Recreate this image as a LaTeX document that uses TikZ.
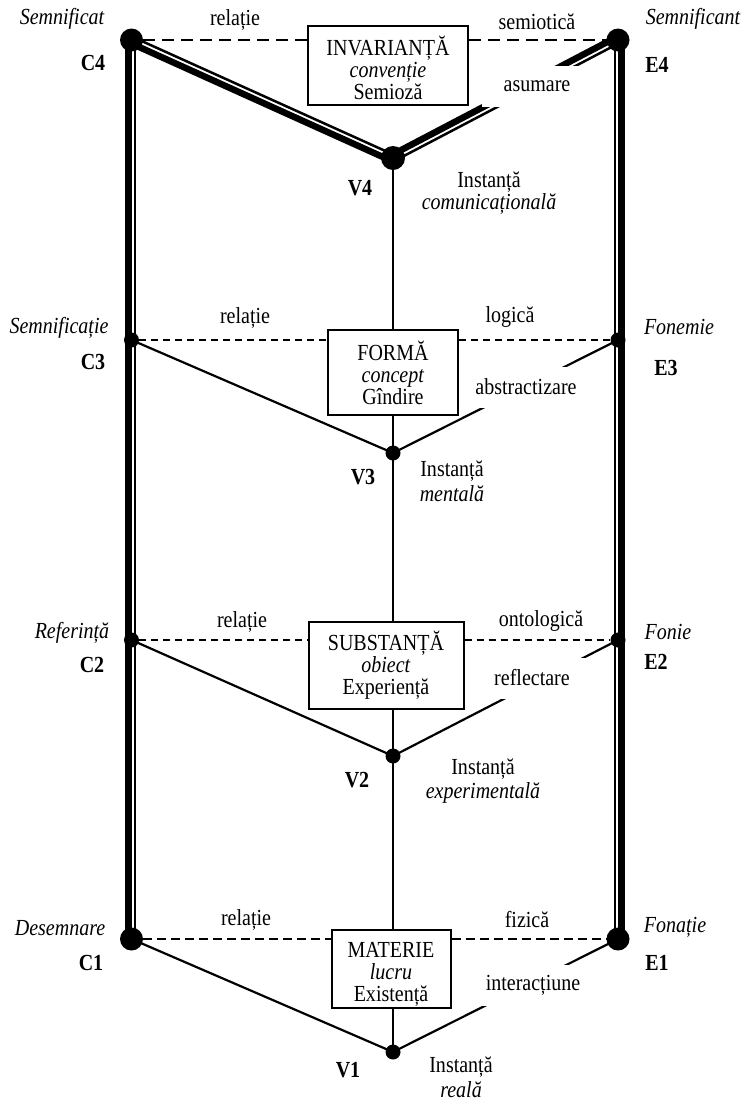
\documentclass[tikz,border=0pt]{standalone}
\usepackage{fontspec}
\setmainfont[FakeStretch=0.87]{Liberation Serif}
\usetikzlibrary{calc,backgrounds}
\begin{document}
\begin{tikzpicture}[x=1pt,y=-1pt,
  every node/.style={font=\fontsize{23}{22}\selectfont, inner sep=0pt},
  bigdot/.style={circle,fill=black,minimum size=23pt},
  smalldot/.style={circle,fill=black,minimum size=15pt},
  conceptbox/.style={draw,line width=2pt,fill=white,align=center},
  cutlabel/.style={fill=white,minimum width=110pt,minimum height=41pt},
  itl/.style={font=\fontsize{23}{22}\selectfont\itshape},
  bfl/.style={font=\fontsize{23}{22}\selectfont\bfseries},
  thickstrand/.style={line width=6.5pt},
  thinstrand/.style={line width=2.5pt},
  thinline/.style={line width=2.2pt},
  relA/.style={line width=2.5pt,dash pattern=on 12pt off 7pt},
  relB/.style={line width=2pt,dash pattern=on 7pt off 5pt},
  relC/.style={line width=2pt,dash pattern=on 9pt off 5pt}
]
\useasboundingbox (0,0) rectangle (742,1101);

% ---- vertices ----
\node[bigdot]   (C4) at (131.5,40) {};
\node[bigdot]   (E4) at (618,40) {};
\node[bigdot,minimum size=24pt] (V4) at (393,158) {};
\node[smalldot] (C3) at (131.5,340) {};
\node[smalldot] (E3) at (618,340) {};
\node[smalldot] (V3) at (393,453) {};
\node[smalldot] (C2) at (131.5,640) {};
\node[smalldot] (E2) at (618,640) {};
\node[smalldot] (V2) at (393,756) {};
\node[bigdot]   (C1) at (131.5,939) {};
\node[bigdot]   (E1) at (618,939) {};
\node[smalldot] (V1) at (393,1052) {};

% ---- concept boxes ----
\node[conceptbox,minimum width=160pt,minimum height=79pt] (B4) at (388,65.5)
  {\rule{0pt}{24pt}INVARIANȚĂ\\ \textit{convenție}\\ Semioză};
\node[conceptbox,minimum width=130pt,minimum height=85pt] (B3) at (393,372.5)
  {FORMĂ\\ \textit{concept}\\ Gîndire};
\node[conceptbox,minimum width=155pt,minimum height=87pt] (B2) at (386,665)
  {SUBSTANȚĂ\\ \textit{obiect}\\ Experiență};
\node[conceptbox,minimum width=119pt,minimum height=78pt] (B1) at (391,969)
  {\rule{0pt}{25.5pt}MATERIE\\ \textit{lucru}\\ Existență};

% ---- labels cutting the right diagonals ----
\node[cutlabel] (L4) at (537,86) {asumare};
\node[cutlabel] (L3) at (526,387) {abstractizare};
\node[cutlabel] (L2) at (532,678) {reflectare};
\node[cutlabel] (L1) at (533,985) {interacțiune};

% ---- texts level 4 ----
\node[itl] (n4a) at (62,19) {Semnificat};
\node[bfl] (n4b) at (93,63) {C4};
\node      (n4c) at (235,20) {relație};
\node      (n4d) at (537,22) {semiotică};
\node[itl] (n4e) at (693,19) {Semnificant};
\node[bfl] (n4f) at (657,65) {E4};
\node[bfl] (n4g) at (360,188) {V4};
\node      (n4h) at (489,182) {Instanță};
\node[itl] (n4i) at (489,204) {comunicațională};
% ---- texts level 3 ----
\node[itl] (n3a) at (59,328) {Semnificație};
\node[bfl] (n3b) at (93,362) {C3};
\node      (n3c) at (245,318) {relație};
\node      (n3d) at (510,317) {logică};
\node[itl] (n3e) at (679,327) {Fonemie};
\node[bfl] (n3f) at (666,368) {E3};
\node[bfl] (n3g) at (363,477) {V3};
\node      (n3h) at (452,471) {Instanță};
\node[itl] (n3i) at (452,494) {mentală};
% ---- texts level 2 ----
\node[itl] (n2a) at (72,633) {Referință};
\node[bfl] (n2b) at (92,665) {C2};
\node      (n2c) at (242,622) {relație};
\node      (n2d) at (541,621) {ontologică};
\node[itl] (n2e) at (668,632) {Fonie};
\node[bfl] (n2f) at (656,662) {E2};
\node[bfl] (n2g) at (357,780) {V2};
\node      (n2h) at (483,769) {Instanță};
\node[itl] (n2i) at (483,793) {experimentală};
% ---- texts level 1 ----
\node[itl] (n1a) at (60,928) {Desemnare};
\node[bfl] (n1b) at (91,963) {C1};
\node      (n1c) at (246,920) {relație};
\node      (n1d) at (527,920) {fizică};
\node[itl] (n1e) at (675,927) {Fonație};
\node[bfl] (n1f) at (657,963) {E1};
\node[bfl] (n1g) at (348,1070) {V1};
\node      (n1h) at (461,1067) {Instanță};
\node[itl] (n1i) at (461,1090) {reală};

\begin{scope}[on background layer]
  \fill[white] (0,0) rectangle (742,1101);
  % outer double verticals
  \draw[thickstrand] ([xshift=-3.25pt]C4.center) -- ([xshift=-3.25pt]C1.center);
  \draw[thinstrand]  ([xshift=3.25pt]C4.center) -- ([xshift=3.25pt]C1.center);
  \draw[thickstrand] ([xshift=3.25pt]E4.center) -- ([xshift=3.25pt]E1.center);
  \draw[thinstrand]  ([xshift=-3.25pt]E4.center) -- ([xshift=-3.25pt]E1.center);
  % top double diagonals
  \draw[thickstrand] ($(C4.center)!3.25pt!-90:(V4.center)$) -- ($(V4.center)!3.25pt!90:(C4.center)$);
  \draw[thinstrand]  ($(C4.center)!3.25pt!90:(V4.center)$) -- ($(V4.center)!3.25pt!-90:(C4.center)$);
  \draw[thickstrand] ($(V4.center)!3.25pt!90:(E4.center)$) -- ($(E4.center)!3.25pt!-90:(V4.center)$);
  \draw[thinstrand]  ($(V4.center)!3.25pt!-90:(E4.center)$) -- ($(E4.center)!3.25pt!90:(V4.center)$);
  % central axis
  \draw[thinline] (V4.center) -- (V3.center) -- (V2.center) -- (V1.center);
  % lower diagonals
  \draw[thinline] (C3.center) -- (V3.center) -- (E3.center);
  \draw[thinline] (C2.center) -- (V2.center) -- (E2.center);
  \draw[thinline] (C1.center) -- (V1.center) -- (E1.center);
  % dashed relations
  \draw[relA] (C4) -- (C4 -| B4.west);
  \draw[relA] (B4.east |- E4) -- (E4);
  \draw[relB] (C3) -- (C3 -| B3.west);
  \draw[relB] (B3.east |- E3) -- (E3);
  \draw[relB] (C2) -- (C2 -| B2.west);
  \draw[relB] (B2.east |- E2) -- (E2);
  \draw[relC] (C1) -- (C1 -| B1.west);
  \draw[relC] (B1.east |- E1) -- (E1);
\end{scope}
\end{tikzpicture}
\end{document}
